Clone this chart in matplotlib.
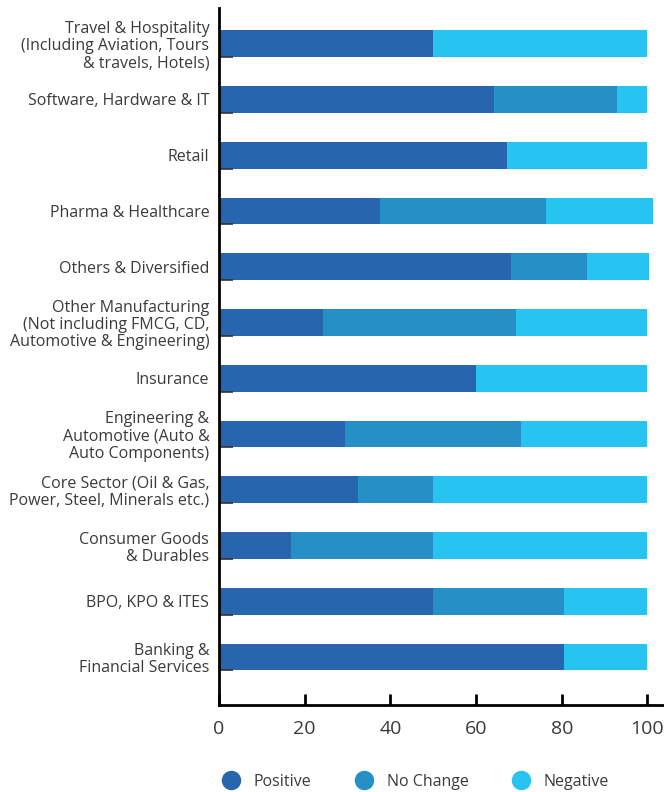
import matplotlib
matplotlib.use('Agg')
from matplotlib import pyplot as plt
from matplotlib.lines import Line2D
import numpy as np

# Survey data: share of respondents per sector (%)
sectors = [
    'Travel & Hospitality\n(Including Aviation, Tours\n& travels, Hotels)',
    'Software, Hardware & IT',
    'Retail',
    'Pharma & Healthcare',
    'Others & Diversified',
    'Other Manufacturing\n(Not including FMCG, CD,\nAutomotive & Engineering)',
    'Insurance',
    'Engineering &\nAutomotive (Auto &\nAuto Components)',
    'Core Sector (Oil & Gas,\nPower, Steel, Minerals etc.)',
    'Consumer Goods\n& Durables',
    'BPO, KPO & ITES',
    'Banking &\nFinancial Services',
]
positive = [50.0, 64.3, 67.2, 37.6, 68.2, 24.3, 60.0, 29.4, 32.4, 16.7, 50.0, 80.5]
no_change = [0.0, 28.6, 0.0, 38.7, 17.7, 45.0, 0.0, 41.0, 17.6, 33.3, 30.5, 0.0]
negative = [50.0, 7.1, 32.8, 25.0, 14.5, 30.7, 40.0, 29.6, 50.0, 50.0, 19.5, 19.5]
series_names = ['Positive', 'No Change', 'Negative']
colors = ['#2766ae', '#268fc6', '#27c4f1']

plt.rcParams['font.family'] = ['Open Sans', 'DejaVu Sans']
text_color = '#3a3a3a'

fig = plt.figure(dpi=100, figsize=(6.64, 7.92))
ax = fig.add_axes([219 / 664, 87 / 792, 445 / 664, 697 / 792])

y = np.arange(len(sectors))
pos = np.array(positive)
nc = np.array(no_change)
neg = np.array(negative)
h = 0.48
ax.barh(y, pos, height=h, color=colors[0])
ax.barh(y, nc, height=h, left=pos, color=colors[1])
ax.barh(y, neg, height=h, left=pos + nc, color=colors[2])

ax.set_xlim(0, 445 / 4.284)
ax.set_ylim(11.86, -0.64)

# Format axes
ax.set_yticks(y)
ax.set_yticklabels(sectors, fontsize=11.5, color=text_color, linespacing=1.1)
ax.tick_params(axis='y', which='major', length=0, pad=7)
ax.set_yticks(y + h / 2, minor=True)
ax.tick_params(axis='y', which='minor', direction='in', length=10,
               width=1.2, color='#333333')

ax.set_xticks([0, 20, 40, 60, 80, 100])
ax.tick_params(axis='x', direction='in', length=8, width=2, color='black',
               labelsize=14, labelcolor=text_color, pad=11)

for side in ['top', 'right']:
    ax.spines[side].set_visible(False)
for side in ['left', 'bottom']:
    ax.spines[side].set_linewidth(2)
    ax.spines[side].set_color('black')

# Legend
handles = [Line2D([], [], marker='o', linestyle='', markersize=13,
                  markerfacecolor=c, markeredgecolor=c) for c in colors]
fig.legend(handles, series_names, loc='center left',
           bbox_to_anchor=(209 / 664, 1 - 782 / 792), ncol=3, frameon=False,
           fontsize=11.5, labelcolor=text_color, handletextpad=0.4,
           columnspacing=2.3, borderaxespad=0)

fig.savefig('out.png', dpi=100)
